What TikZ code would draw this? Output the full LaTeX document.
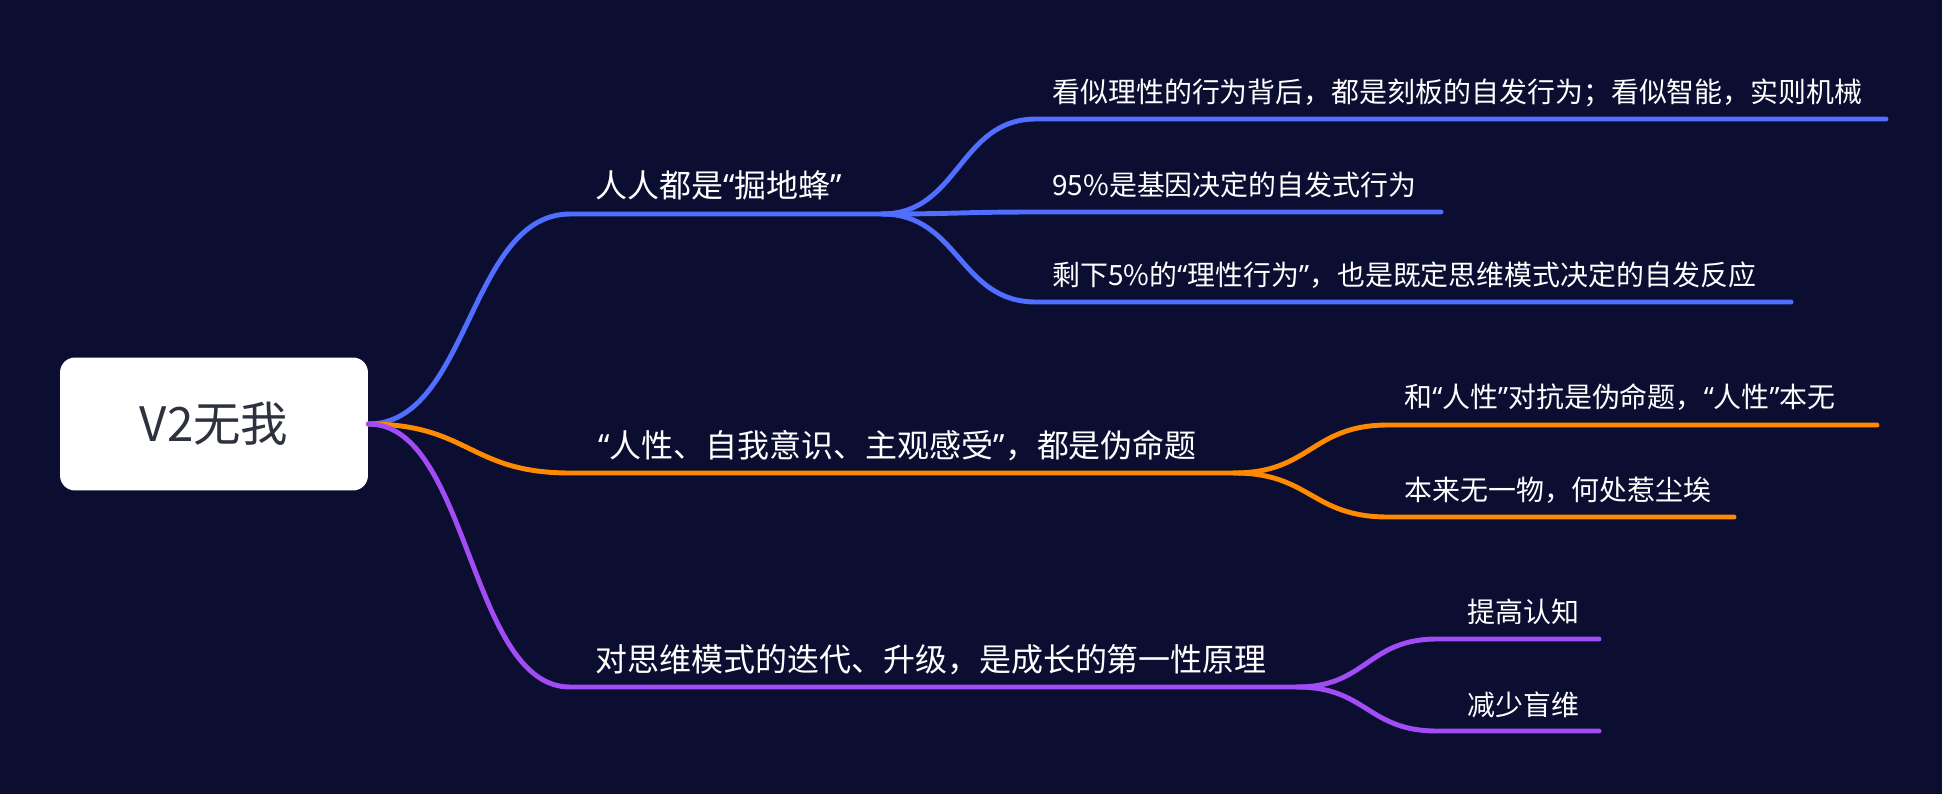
\documentclass[tikz,border=0pt]{standalone}
\usepackage{fontspec}
\setmainfont{Noto Sans CJK SC}
\newfontfamily\quotefont{Noto Sans}
\newcommand{\qopen}{{\quotefont “}}
\newcommand{\qclose}{{\quotefont ”}}
\usetikzlibrary{positioning}
\definecolor{bgnavy}{RGB}{11,14,48}
\definecolor{mapblue}{RGB}{80,110,255}
\definecolor{maporange}{RGB}{255,137,0}
\definecolor{mappurple}{RGB}{162,76,245}
\definecolor{rootgray}{RGB}{45,50,62}

\begin{document}
\begin{tikzpicture}[x=0.02cm,y=-0.02cm]
\tikzstyle{rootbox}=[fill=white,rounded corners=0.3cm,minimum width=6.16cm,minimum height=2.66cm,text=rootgray,font=\fontsize{27}{32}\selectfont]
\tikzstyle{topic}=[anchor=west,inner sep=0pt,text=white,font=\fontsize{18.2}{22}\selectfont]
\tikzstyle{leaf}=[anchor=west,inner sep=0pt,text=white,font=\fontsize{15.9}{19}\selectfont]
\tikzstyle{wire}=[line width=2.8pt,line cap=round]
\fill[bgnavy] (0,0) rectangle (1942,794);
\useasboundingbox (0,0) rectangle (1942,794);

\node[rootbox] (root) at (214,424) {V2无我};

% branch points
\coordinate (b1a) at (570,214); \coordinate (b1b) at (882,214);
\coordinate (b2a) at (570,473); \coordinate (b2b) at (1234,473);
\coordinate (b3a) at (570,687); \coordinate (b3b) at (1297,687);
\coordinate (s11a) at (1036,119); \coordinate (s11b) at (1886,119);
\coordinate (s12a) at (1036,212); \coordinate (s12b) at (1441,212);
\coordinate (s13a) at (1036,302); \coordinate (s13b) at (1791,302);
\coordinate (s21a) at (1388,425); \coordinate (s21b) at (1877,425);
\coordinate (s22a) at (1388,517); \coordinate (s22b) at (1734,517);
\coordinate (s31a) at (1437,639); \coordinate (s31b) at (1599,639);
\coordinate (s32a) at (1437,731); \coordinate (s32b) at (1599,731);

\draw[wire,mapblue] (root.east) .. controls +(101,0) and +(-101,0) .. (b1a) -- (b1b);
\draw[wire,maporange] (root.east) .. controls +(101,0) and +(-101,0) .. (b2a) -- (b2b);
\draw[wire,mappurple] (root.east) .. controls +(101,0) and +(-101,0) .. (b3a) -- (b3b);

\draw[wire,mapblue] (b1b) .. controls +(77,0) and +(-77,0) .. (s11a) -- (s11b);
\draw[wire,mapblue] (b1b) .. controls +(77,0) and +(-77,0) .. (s12a) -- (s12b);
\draw[wire,mapblue] (b1b) .. controls +(77,0) and +(-77,0) .. (s13a) -- (s13b);
\draw[wire,maporange] (b2b) .. controls +(77,0) and +(-77,0) .. (s21a) -- (s21b);
\draw[wire,maporange] (b2b) .. controls +(77,0) and +(-77,0) .. (s22a) -- (s22b);
\draw[wire,mappurple] (b3b) .. controls +(70,0) and +(-70,0) .. (s31a) -- (s31b);
\draw[wire,mappurple] (b3b) .. controls +(70,0) and +(-70,0) .. (s32a) -- (s32b);

\node[topic] (dig) at (595,185) {人人都是\qopen 掘地蜂\qclose};
\node[leaf] (mech) at (1052,93) {看似理性的行为背后，都是刻板的自发行为；看似智能，实则机械};
\node[leaf] (gene) at (1052,185) {95\%是基因决定的自发式行为};
\node[leaf] (rest) at (1052,275) {剩下5\%的\qopen 理性行为\qclose，也是既定思维模式决定的自发反应};
\node[topic] (fake) at (598,446) {\qopen 人性、自我意识、主观感受\qclose，都是伪命题};
\node[leaf] (fight) at (1404,397) {和\qopen 人性\qclose 对抗是伪命题，\qopen 人性\qclose 本无};
\node[leaf] (dust) at (1404,490) {本来无一物，何处惹尘埃};
\node[topic] (iter) at (595,660) {对思维模式的迭代、升级，是成长的第一性原理};
\node[leaf] (cogn) at (1467,612) {提高认知};
\node[leaf] (blind) at (1467,705) {减少盲维};
\end{tikzpicture}
\end{document}
